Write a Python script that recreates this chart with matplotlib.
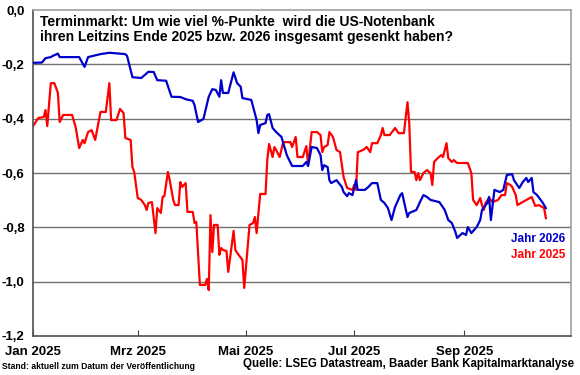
import numpy as np
import pandas as pd
import matplotlib.pyplot as plt
import matplotlib.dates as mdates

plt.rcParams['font.family'] = ['Liberation Sans', 'DejaVu Sans']

# Jahr 2026 (blau)
dates_2026 = ["01-01", "01-06", "01-08", "01-11", "01-12", "01-15", "01-16", "01-27", "01-30", "02-01",
              "02-08", "02-13", "02-22", "02-23", "02-26", "03-03", "03-07", "03-10", "03-12", "03-17",
              "03-20", "03-25", "03-28", "04-01", "04-02", "04-04", "04-07", "04-10", "04-12", "04-14",
              "04-16", "04-17", "04-18", "04-21", "04-24", "04-26", "04-28", "04-29", "05-02", "05-04",
              "05-07", "05-08", "05-09", "05-12", "05-13", "05-14", "05-16", "05-18", "05-21", "05-24",
              "05-27", "06-02", "06-04", "06-05", "06-07", "06-10", "06-12", "06-13", "06-14", "06-16",
              "06-17", "06-18", "06-21", "06-24", "06-25", "06-27", "06-28", "06-30", "07-02", "07-03",
              "07-07", "07-09", "07-11", "07-14", "07-16", "07-18", "07-20", "07-22", "07-24", "07-27",
              "07-28", "07-31", "08-01", "08-05", "08-07", "08-09", "08-11", "08-13", "08-18", "08-21",
              "08-23", "08-25", "08-27", "08-28", "08-31", "09-02", "09-03", "09-05", "09-08", "09-10",
              "09-11", "09-14", "09-15", "09-16", "09-18", "09-21", "09-23", "09-25", "09-28", "09-29",
              "10-02", "10-04", "10-06", "10-07", "10-09", "10-10", "10-12", "10-15", "10-17"]
vals_2026 = [-0.194, -0.193, -0.177, -0.173, -0.169, -0.160, -0.173, -0.173, -0.209, -0.173,
             -0.162, -0.157, -0.162, -0.169, -0.247, -0.250, -0.227, -0.228, -0.258, -0.260,
             -0.319, -0.320, -0.328, -0.334, -0.350, -0.412, -0.401, -0.319, -0.291, -0.294,
             -0.319, -0.258, -0.305, -0.305, -0.229, -0.269, -0.282, -0.324, -0.328, -0.331,
             -0.405, -0.453, -0.423, -0.416, -0.386, -0.383, -0.434, -0.449, -0.467, -0.534,
             -0.574, -0.574, -0.559, -0.574, -0.504, -0.508, -0.534, -0.589, -0.571, -0.578,
             -0.626, -0.637, -0.626, -0.651, -0.670, -0.685, -0.674, -0.681, -0.626, -0.662,
             -0.662, -0.651, -0.637, -0.637, -0.699, -0.710, -0.729, -0.773, -0.725, -0.681,
             -0.674, -0.762, -0.747, -0.736, -0.707, -0.681, -0.688, -0.699, -0.707, -0.736,
             -0.773, -0.784, -0.817, -0.839, -0.821, -0.828, -0.799, -0.821, -0.799, -0.773,
             -0.736, -0.710, -0.688, -0.773, -0.662, -0.670, -0.662, -0.607, -0.604, -0.626,
             -0.655, -0.633, -0.618, -0.633, -0.618, -0.670, -0.681, -0.707, -0.729]

# Jahr 2025 (rot)
dates_2025 = ["01-01", "01-04", "01-07", "01-08", "01-09", "01-11", "01-13", "01-15", "01-16", "01-18",
              "01-23", "01-25", "01-27", "01-29", "01-30", "02-01", "02-03", "02-05", "02-08", "02-11",
              "02-13", "02-14", "02-17", "02-19", "02-21", "02-22", "02-25", "02-26", "02-27", "03-01",
              "03-03", "03-05", "03-06", "03-07", "03-09", "03-11", "03-12", "03-14", "03-15", "03-16",
              "03-18", "03-19", "03-21", "03-22", "03-24", "03-25", "03-26", "03-28", "03-29", "04-01",
              "04-02", "04-03", "04-05", "04-08", "04-09", "04-10", "04-11", "04-12", "04-13", "04-15",
              "04-16", "04-17", "04-18", "04-20", "04-21", "04-24", "04-25", "04-26", "04-29", "04-30",
              "05-03", "05-05", "05-06", "05-07", "05-09", "05-12", "05-13", "05-14", "05-16", "05-17",
              "05-18", "05-20", "05-22", "05-26", "05-27", "05-29", "05-30", "06-02", "06-04", "06-05",
              "06-07", "06-10", "06-12", "06-13", "06-14", "06-16", "06-17", "06-19", "06-21", "06-23",
              "06-25", "06-27", "06-30", "07-01", "07-02", "07-03", "07-06", "07-08", "07-10", "07-11",
              "07-14", "07-16", "07-17", "07-18", "07-21", "07-24", "07-26", "07-29", "07-31", "08-01",
              "08-02", "08-04", "08-05", "08-06", "08-07", "08-09", "08-11", "08-13", "08-14", "08-15",
              "08-17", "08-19", "08-20", "08-22", "08-23", "08-25", "08-26", "08-28", "08-31", "09-03",
              "09-05", "09-06", "09-08", "09-10", "09-11", "09-12", "09-13", "09-15", "09-17", "09-20",
              "09-22", "09-24", "09-25", "09-27", "09-28", "09-30", "10-01", "10-03", "10-06", "10-09",
              "10-11", "10-13", "10-16", "10-17"]
vals_2025 = [-0.427, -0.397, -0.394, -0.368, -0.427, -0.269, -0.269, -0.305, -0.412, -0.386,
             -0.386, -0.431, -0.508, -0.478, -0.490, -0.449, -0.442, -0.478, -0.375, -0.375,
             -0.269, -0.405, -0.405, -0.364, -0.379, -0.471, -0.478, -0.578, -0.596, -0.692,
             -0.699, -0.718, -0.736, -0.710, -0.707, -0.821, -0.729, -0.747, -0.688, -0.685,
             -0.596, -0.626, -0.699, -0.718, -0.718, -0.633, -0.651, -0.637, -0.743, -0.743,
             -0.784, -0.780, -1.012, -1.012, -0.990, -1.031, -0.755, -0.891, -0.791, -0.791,
             -0.901, -0.876, -0.883, -0.887, -0.964, -0.813, -0.883, -0.894, -0.920, -1.023,
             -0.791, -0.784, -0.762, -0.821, -0.677, -0.677, -0.552, -0.493, -0.541, -0.504,
             -0.515, -0.541, -0.486, -0.486, -0.504, -0.467, -0.541, -0.541, -0.501, -0.570,
             -0.449, -0.449, -0.460, -0.523, -0.504, -0.497, -0.449, -0.467, -0.515, -0.523,
             -0.615, -0.655, -0.662, -0.644, -0.662, -0.523, -0.515, -0.504, -0.523, -0.490,
             -0.490, -0.460, -0.434, -0.460, -0.460, -0.434, -0.453, -0.453, -0.339, -0.416,
             -0.596, -0.596, -0.626, -0.600, -0.626, -0.600, -0.589, -0.600, -0.644, -0.559,
             -0.545, -0.534, -0.541, -0.490, -0.545, -0.559, -0.552, -0.563, -0.563, -0.563,
             -0.600, -0.699, -0.718, -0.692, -0.718, -0.736, -0.710, -0.692, -0.707, -0.699,
             -0.681, -0.681, -0.637, -0.644, -0.651, -0.681, -0.718, -0.710, -0.699, -0.688,
             -0.721, -0.718, -0.729, -0.766]

tick_dates = ["2025-01-01", "2025-03-01", "2025-05-01", "2025-07-01", "2025-09-01"]
tick_labels = ["Jan 2025", "Mrz 2025", "Mai 2025", "Jul 2025", "Sep 2025"]
y_ticks = [0.0, -0.2, -0.4, -0.6, -0.8, -1.0, -1.2]

x26 = pd.to_datetime(["2025-" + d for d in dates_2026])
x25 = pd.to_datetime(["2025-" + d for d in dates_2025])

fig = plt.figure(figsize=(5.8, 3.75), dpi=100)
ax = fig.add_axes([0.057, 0.104, 0.927, 0.869])

for y in y_ticks[1:-1]:
    ax.axhline(y, color="#707070", lw=1.0, zorder=1)

ax.plot(x26, vals_2026, color="#0000CC", lw=1.6, zorder=3)
ax.plot(x25, vals_2025, color="#FF0000", lw=1.6, zorder=2)

ax.set_xlim(pd.Timestamp("2025-01-01"), pd.Timestamp("2025-10-31"))
ax.set_ylim(-1.2, 0.0)
ax.set_xticks(pd.to_datetime(tick_dates))
ax.set_xticklabels(tick_labels)
ax.set_yticks(y_ticks)
ax.set_yticklabels([f"{v:.1f}".replace(".", ",").replace("-0,0", "0,0") for v in y_ticks])

for lab in ax.get_xticklabels() + ax.get_yticklabels():
    lab.set_fontweight("bold")
    lab.set_fontsize(9.5)
ax.tick_params(axis="x", direction="in", length=4, color="#404040", pad=7)
ax.tick_params(axis="y", length=0, pad=6)

for side in ["left", "bottom"]:
    ax.spines[side].set_color("#505050")
    ax.spines[side].set_linewidth(1.2)
for side in ["top", "right"]:
    ax.spines[side].set_color("#A0A0A0")
    ax.spines[side].set_linewidth(1.2)

ax.text(0.012, 0.985, "Terminmarkt: Um wie viel %-Punkte  wird die US-Notenbank\n"
        "ihren Leitzins Ende 2025 bzw. 2026 insgesamt gesenkt haben?",
        transform=ax.transAxes, ha="left", va="top", fontsize=10, fontweight="bold",
        linespacing=1.1)

ax.text(0.99, 0.298, "Jahr 2026", transform=ax.transAxes, ha="right", va="center",
        color="#0000CC", fontsize=8.5, fontweight="bold")
ax.text(0.99, 0.250, "Jahr 2025", transform=ax.transAxes, ha="right", va="center",
        color="#FF0000", fontsize=8.5, fontweight="bold")

fig.text(0.004, 0.01, "Stand: aktuell zum Datum der Veröffentlichung",
         ha="left", va="bottom", fontsize=6.2, fontweight="bold")
fig.text(0.99, 0.014, "Quelle: LSEG Datastream, Baader Bank Kapitalmarktanalyse",
         ha="right", va="bottom", fontsize=8.3, fontweight="bold")

fig.savefig("out.png", dpi=100)
